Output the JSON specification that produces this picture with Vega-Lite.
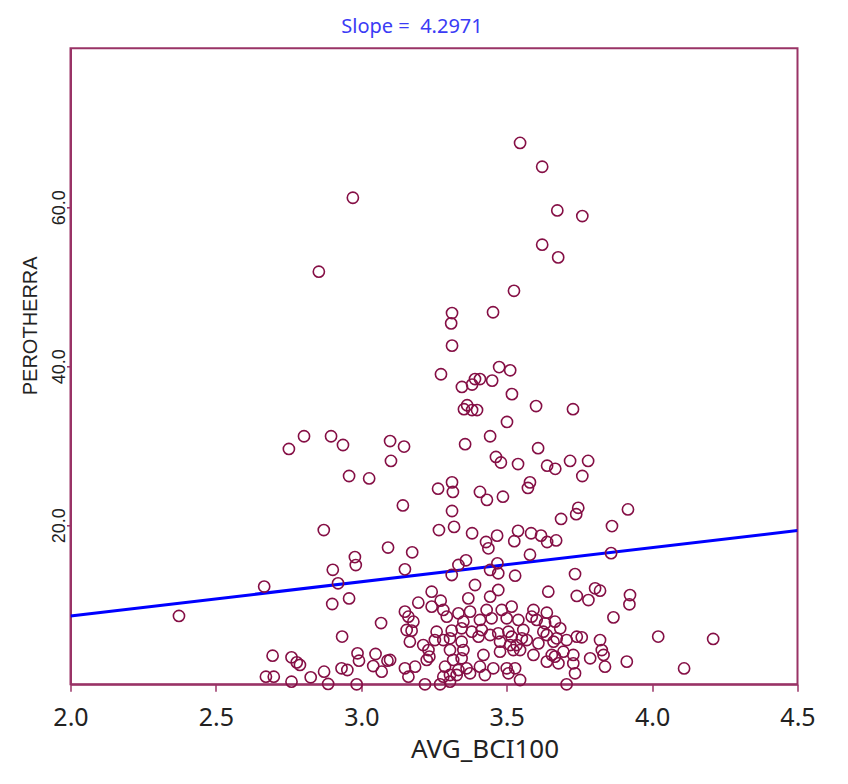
{
"$schema": "https://vega.github.io/schema/vega-lite/v6.json",
"width": 727, "height": 636,
"autosize": {"type": "none"},
"padding": {"left": 70.5, "top": 48.3, "right": 50.5, "bottom": 99.7},
"background": "white",
"title": {"text": "Slope =\u00a0 4.2971", "color": "#3b3bf5", "font": "Noto Sans", "fontSize": 20, "fontWeight": "normal", "anchor": "middle", "dx": -22, "dy": 20, "offset": 11, "baseline": "bottom"},
"datasets": {
"fit": [{"AVG_BCI100": 2.0, "PEROTHERRA": 8.6}, {"AVG_BCI100": 4.5, "PEROTHERRA": 19.34}],
"points": [
{"AVG_BCI100":3.546,"PEROTHERRA":68.1},{"AVG_BCI100":3.622,"PEROTHERRA":65.1},{"AVG_BCI100":2.971,"PEROTHERRA":61.2},{"AVG_BCI100":3.674,"PEROTHERRA":59.6},{"AVG_BCI100":3.760,"PEROTHERRA":58.9},{"AVG_BCI100":3.622,"PEROTHERRA":55.3},{"AVG_BCI100":3.677,"PEROTHERRA":53.7},{"AVG_BCI100":2.854,"PEROTHERRA":51.9},{"AVG_BCI100":3.525,"PEROTHERRA":49.5},{"AVG_BCI100":3.312,"PEROTHERRA":46.7},{"AVG_BCI100":3.453,"PEROTHERRA":46.8},{"AVG_BCI100":3.309,"PEROTHERRA":45.4},{"AVG_BCI100":3.312,"PEROTHERRA":42.6},{"AVG_BCI100":3.274,"PEROTHERRA":39.0},{"AVG_BCI100":3.474,"PEROTHERRA":39.9},{"AVG_BCI100":3.512,"PEROTHERRA":39.5},{"AVG_BCI100":3.391,"PEROTHERRA":38.4},{"AVG_BCI100":3.408,"PEROTHERRA":38.4},{"AVG_BCI100":3.346,"PEROTHERRA":37.4},{"AVG_BCI100":3.381,"PEROTHERRA":37.7},{"AVG_BCI100":3.450,"PEROTHERRA":38.2},{"AVG_BCI100":3.518,"PEROTHERRA":36.5},{"AVG_BCI100":3.364,"PEROTHERRA":35.1},{"AVG_BCI100":3.353,"PEROTHERRA":34.6},{"AVG_BCI100":3.381,"PEROTHERRA":34.5},{"AVG_BCI100":3.398,"PEROTHERRA":34.5},{"AVG_BCI100":3.601,"PEROTHERRA":35.0},{"AVG_BCI100":3.728,"PEROTHERRA":34.6},{"AVG_BCI100":3.501,"PEROTHERRA":33.0},{"AVG_BCI100":3.443,"PEROTHERRA":31.2},{"AVG_BCI100":3.357,"PEROTHERRA":30.2},{"AVG_BCI100":2.803,"PEROTHERRA":31.2},{"AVG_BCI100":2.896,"PEROTHERRA":31.2},{"AVG_BCI100":3.099,"PEROTHERRA":30.6},{"AVG_BCI100":3.147,"PEROTHERRA":29.9},{"AVG_BCI100":2.751,"PEROTHERRA":29.6},{"AVG_BCI100":2.937,"PEROTHERRA":30.1},{"AVG_BCI100":3.608,"PEROTHERRA":29.7},{"AVG_BCI100":3.463,"PEROTHERRA":28.6},{"AVG_BCI100":3.480,"PEROTHERRA":27.9},{"AVG_BCI100":3.102,"PEROTHERRA":28.1},{"AVG_BCI100":3.639,"PEROTHERRA":27.5},{"AVG_BCI100":3.667,"PEROTHERRA":27.1},{"AVG_BCI100":3.718,"PEROTHERRA":28.1},{"AVG_BCI100":3.780,"PEROTHERRA":28.1},{"AVG_BCI100":3.539,"PEROTHERRA":27.7},{"AVG_BCI100":2.958,"PEROTHERRA":26.2},{"AVG_BCI100":3.027,"PEROTHERRA":25.9},{"AVG_BCI100":3.760,"PEROTHERRA":26.2},{"AVG_BCI100":3.312,"PEROTHERRA":25.4},{"AVG_BCI100":3.264,"PEROTHERRA":24.6},{"AVG_BCI100":3.315,"PEROTHERRA":24.2},{"AVG_BCI100":3.408,"PEROTHERRA":24.2},{"AVG_BCI100":3.432,"PEROTHERRA":23.2},{"AVG_BCI100":3.580,"PEROTHERRA":25.4},{"AVG_BCI100":3.573,"PEROTHERRA":24.7},{"AVG_BCI100":3.487,"PEROTHERRA":23.6},{"AVG_BCI100":3.143,"PEROTHERRA":22.5},{"AVG_BCI100":3.746,"PEROTHERRA":22.2},{"AVG_BCI100":3.312,"PEROTHERRA":21.8},{"AVG_BCI100":3.917,"PEROTHERRA":22.0},{"AVG_BCI100":3.739,"PEROTHERRA":21.4},{"AVG_BCI100":3.687,"PEROTHERRA":20.8},{"AVG_BCI100":3.267,"PEROTHERRA":19.4},{"AVG_BCI100":3.319,"PEROTHERRA":19.8},{"AVG_BCI100":3.381,"PEROTHERRA":19.0},{"AVG_BCI100":2.871,"PEROTHERRA":19.4},{"AVG_BCI100":3.467,"PEROTHERRA":18.7},{"AVG_BCI100":3.539,"PEROTHERRA":19.3},{"AVG_BCI100":3.584,"PEROTHERRA":19.0},{"AVG_BCI100":3.618,"PEROTHERRA":18.7},{"AVG_BCI100":3.639,"PEROTHERRA":17.9},{"AVG_BCI100":3.862,"PEROTHERRA":19.9},{"AVG_BCI100":3.429,"PEROTHERRA":17.9},{"AVG_BCI100":3.437,"PEROTHERRA":17.1},{"AVG_BCI100":3.526,"PEROTHERRA":18.0},{"AVG_BCI100":3.670,"PEROTHERRA":18.1},{"AVG_BCI100":3.092,"PEROTHERRA":17.2},{"AVG_BCI100":3.175,"PEROTHERRA":16.6},{"AVG_BCI100":2.978,"PEROTHERRA":16.0},{"AVG_BCI100":3.360,"PEROTHERRA":15.6},{"AVG_BCI100":3.859,"PEROTHERRA":16.5},{"AVG_BCI100":3.580,"PEROTHERRA":16.3},{"AVG_BCI100":2.902,"PEROTHERRA":14.4},{"AVG_BCI100":2.981,"PEROTHERRA":15.0},{"AVG_BCI100":2.920,"PEROTHERRA":12.7},{"AVG_BCI100":2.666,"PEROTHERRA":12.3},{"AVG_BCI100":2.900,"PEROTHERRA":10.1},{"AVG_BCI100":2.958,"PEROTHERRA":10.8},{"AVG_BCI100":2.373,"PEROTHERRA":8.6},{"AVG_BCI100":3.068,"PEROTHERRA":7.7},{"AVG_BCI100":2.934,"PEROTHERRA":6.0},{"AVG_BCI100":4.021,"PEROTHERRA":6.0},{"AVG_BCI100":4.210,"PEROTHERRA":5.7},{"AVG_BCI100":4.110,"PEROTHERRA":2.0},
{"AVG_BCI100":3.150,"PEROTHERRA":14.46},{"AVG_BCI100":3.334,"PEROTHERRA":15.01},{"AVG_BCI100":3.311,"PEROTHERRA":13.75},{"AVG_BCI100":3.443,"PEROTHERRA":14.38},{"AVG_BCI100":3.471,"PEROTHERRA":13.96},{"AVG_BCI100":3.529,"PEROTHERRA":13.66},{"AVG_BCI100":3.735,"PEROTHERRA":13.87},{"AVG_BCI100":3.468,"PEROTHERRA":15.22},{"AVG_BCI100":3.391,"PEROTHERRA":12.49},{"AVG_BCI100":3.242,"PEROTHERRA":11.65},{"AVG_BCI100":3.368,"PEROTHERRA":10.81},{"AVG_BCI100":3.443,"PEROTHERRA":11.02},{"AVG_BCI100":3.471,"PEROTHERRA":11.86},{"AVG_BCI100":3.643,"PEROTHERRA":11.65},{"AVG_BCI100":3.741,"PEROTHERRA":11.11},{"AVG_BCI100":3.781,"PEROTHERRA":10.60},{"AVG_BCI100":3.804,"PEROTHERRA":12.07},{"AVG_BCI100":3.821,"PEROTHERRA":11.78},{"AVG_BCI100":3.924,"PEROTHERRA":11.23},{"AVG_BCI100":3.922,"PEROTHERRA":10.06},{"AVG_BCI100":3.196,"PEROTHERRA":10.27},{"AVG_BCI100":3.273,"PEROTHERRA":10.52},{"AVG_BCI100":3.242,"PEROTHERRA":9.77},{"AVG_BCI100":3.282,"PEROTHERRA":9.35},{"AVG_BCI100":3.150,"PEROTHERRA":9.14},{"AVG_BCI100":3.334,"PEROTHERRA":8.93},{"AVG_BCI100":3.374,"PEROTHERRA":9.14},{"AVG_BCI100":3.431,"PEROTHERRA":9.35},{"AVG_BCI100":3.483,"PEROTHERRA":9.35},{"AVG_BCI100":3.517,"PEROTHERRA":9.77},{"AVG_BCI100":3.592,"PEROTHERRA":9.35},{"AVG_BCI100":3.638,"PEROTHERRA":9.01},{"AVG_BCI100":3.586,"PEROTHERRA":8.51},{"AVG_BCI100":3.162,"PEROTHERRA":8.51},{"AVG_BCI100":3.179,"PEROTHERRA":7.88},{"AVG_BCI100":3.294,"PEROTHERRA":8.51},{"AVG_BCI100":3.351,"PEROTHERRA":7.88},{"AVG_BCI100":3.408,"PEROTHERRA":8.09},{"AVG_BCI100":3.448,"PEROTHERRA":8.30},{"AVG_BCI100":3.500,"PEROTHERRA":8.30},{"AVG_BCI100":3.540,"PEROTHERRA":8.09},{"AVG_BCI100":3.603,"PEROTHERRA":8.09},{"AVG_BCI100":3.632,"PEROTHERRA":7.67},{"AVG_BCI100":3.666,"PEROTHERRA":7.88},{"AVG_BCI100":3.684,"PEROTHERRA":7.04},{"AVG_BCI100":3.867,"PEROTHERRA":8.42},{"AVG_BCI100":3.156,"PEROTHERRA":6.83},{"AVG_BCI100":3.173,"PEROTHERRA":6.75},{"AVG_BCI100":3.259,"PEROTHERRA":6.62},{"AVG_BCI100":3.311,"PEROTHERRA":6.75},{"AVG_BCI100":3.345,"PEROTHERRA":7.04},{"AVG_BCI100":3.380,"PEROTHERRA":6.62},{"AVG_BCI100":3.414,"PEROTHERRA":6.83},{"AVG_BCI100":3.443,"PEROTHERRA":6.20},{"AVG_BCI100":3.471,"PEROTHERRA":6.41},{"AVG_BCI100":3.506,"PEROTHERRA":6.62},{"AVG_BCI100":3.517,"PEROTHERRA":5.99},{"AVG_BCI100":3.557,"PEROTHERRA":6.83},{"AVG_BCI100":3.552,"PEROTHERRA":5.78},{"AVG_BCI100":3.626,"PEROTHERRA":6.62},{"AVG_BCI100":3.638,"PEROTHERRA":6.20},{"AVG_BCI100":3.672,"PEROTHERRA":5.78},{"AVG_BCI100":3.706,"PEROTHERRA":5.57},{"AVG_BCI100":3.741,"PEROTHERRA":5.99},{"AVG_BCI100":3.758,"PEROTHERRA":5.91},{"AVG_BCI100":3.821,"PEROTHERRA":5.57},{"AVG_BCI100":3.167,"PEROTHERRA":5.36},{"AVG_BCI100":3.213,"PEROTHERRA":4.94},{"AVG_BCI100":3.231,"PEROTHERRA":4.31},{"AVG_BCI100":3.253,"PEROTHERRA":5.57},{"AVG_BCI100":3.282,"PEROTHERRA":5.57},{"AVG_BCI100":3.305,"PEROTHERRA":5.78},{"AVG_BCI100":3.345,"PEROTHERRA":5.36},{"AVG_BCI100":3.403,"PEROTHERRA":5.99},{"AVG_BCI100":3.477,"PEROTHERRA":5.36},{"AVG_BCI100":3.512,"PEROTHERRA":4.94},{"AVG_BCI100":3.534,"PEROTHERRA":4.94},{"AVG_BCI100":3.569,"PEROTHERRA":5.57},{"AVG_BCI100":3.609,"PEROTHERRA":5.15},{"AVG_BCI100":3.661,"PEROTHERRA":5.36},{"AVG_BCI100":3.234,"PEROTHERRA":3.48},{"AVG_BCI100":3.305,"PEROTHERRA":4.31},{"AVG_BCI100":3.351,"PEROTHERRA":4.31},{"AVG_BCI100":3.420,"PEROTHERRA":3.69},{"AVG_BCI100":3.477,"PEROTHERRA":4.10},{"AVG_BCI100":3.523,"PEROTHERRA":4.31},{"AVG_BCI100":3.546,"PEROTHERRA":4.31},{"AVG_BCI100":3.592,"PEROTHERRA":3.69},{"AVG_BCI100":3.655,"PEROTHERRA":3.69},{"AVG_BCI100":3.666,"PEROTHERRA":3.48},{"AVG_BCI100":3.695,"PEROTHERRA":4.10},{"AVG_BCI100":3.729,"PEROTHERRA":3.69},{"AVG_BCI100":3.787,"PEROTHERRA":3.27},{"AVG_BCI100":3.827,"PEROTHERRA":4.31},{"AVG_BCI100":3.833,"PEROTHERRA":3.69},{"AVG_BCI100":3.099,"PEROTHERRA":3.06},{"AVG_BCI100":3.150,"PEROTHERRA":2.01},{"AVG_BCI100":3.185,"PEROTHERRA":2.22},{"AVG_BCI100":3.225,"PEROTHERRA":3.06},{"AVG_BCI100":3.288,"PEROTHERRA":2.22},{"AVG_BCI100":3.316,"PEROTHERRA":3.06},{"AVG_BCI100":3.345,"PEROTHERRA":3.27},{"AVG_BCI100":3.362,"PEROTHERRA":2.01},{"AVG_BCI100":3.408,"PEROTHERRA":2.22},{"AVG_BCI100":3.454,"PEROTHERRA":2.01},{"AVG_BCI100":3.500,"PEROTHERRA":2.01},{"AVG_BCI100":3.529,"PEROTHERRA":2.01},{"AVG_BCI100":3.638,"PEROTHERRA":2.85},{"AVG_BCI100":3.678,"PEROTHERRA":2.64},{"AVG_BCI100":3.729,"PEROTHERRA":2.64},{"AVG_BCI100":3.838,"PEROTHERRA":2.22},{"AVG_BCI100":3.913,"PEROTHERRA":2.85},{"AVG_BCI100":3.162,"PEROTHERRA":0.96},{"AVG_BCI100":3.219,"PEROTHERRA":0},{"AVG_BCI100":3.282,"PEROTHERRA":0.96},{"AVG_BCI100":3.305,"PEROTHERRA":1.17},{"AVG_BCI100":3.328,"PEROTHERRA":1.17},{"AVG_BCI100":3.334,"PEROTHERRA":1.80},{"AVG_BCI100":3.374,"PEROTHERRA":1.38},{"AVG_BCI100":3.425,"PEROTHERRA":1.17},{"AVG_BCI100":3.506,"PEROTHERRA":1.38},{"AVG_BCI100":3.546,"PEROTHERRA":0.54},{"AVG_BCI100":3.706,"PEROTHERRA":0},{"AVG_BCI100":3.735,"PEROTHERRA":1.38},{"AVG_BCI100":3.271,"PEROTHERRA":0},{"AVG_BCI100":3.305,"PEROTHERRA":0.33},
{"AVG_BCI100":2.695,"PEROTHERRA":3.60},{"AVG_BCI100":2.760,"PEROTHERRA":3.39},{"AVG_BCI100":2.778,"PEROTHERRA":2.76},{"AVG_BCI100":2.789,"PEROTHERRA":2.43},{"AVG_BCI100":2.672,"PEROTHERRA":0.96},{"AVG_BCI100":2.699,"PEROTHERRA":0.96},{"AVG_BCI100":2.760,"PEROTHERRA":0.33},{"AVG_BCI100":2.826,"PEROTHERRA":0.88},{"AVG_BCI100":2.872,"PEROTHERRA":1.59},{"AVG_BCI100":2.886,"PEROTHERRA":0.04},{"AVG_BCI100":2.932,"PEROTHERRA":2.01},{"AVG_BCI100":2.952,"PEROTHERRA":1.80},{"AVG_BCI100":2.987,"PEROTHERRA":3.90},{"AVG_BCI100":2.992,"PEROTHERRA":2.97},{"AVG_BCI100":3.049,"PEROTHERRA":3.81},{"AVG_BCI100":3.041,"PEROTHERRA":2.30},{"AVG_BCI100":3.090,"PEROTHERRA":2.97},{"AVG_BCI100":3.070,"PEROTHERRA":1.59},{"AVG_BCI100":2.984,"PEROTHERRA":0}
]},
"layer": [
{"data": {"name": "fit"}, "mark": {"type": "line", "color": "#0000ff", "strokeWidth": 3, "clip": true},
 "encoding": {"x": {"field": "AVG_BCI100", "type": "quantitative"}, "y": {"field": "PEROTHERRA", "type": "quantitative"}}},
{"data": {"name": "points"}, "mark": {"type": "point", "shape": "circle", "filled": false, "stroke": "#850f45", "strokeWidth": 1.6, "size": 125, "opacity": 1},
 "encoding": {
  "x": {"field": "AVG_BCI100", "type": "quantitative", "scale": {"domain": [2, 4.5], "nice": false, "zero": false},
   "axis": {"values": [2, 2.5, 3, 3.5, 4, 4.5], "format": ".1f", "labelFont": "Noto Sans", "labelFontSize": 25, "labelColor": "#222222", "tickSize": 7, "labelPadding": 14, "title": "AVG_BCI100", "titleFont": "Noto Sans", "titleFontSize": 26, "titleFontWeight": "normal", "titleColor": "#222222", "titleX": 414, "titleY": 73, "titleAlign": "center", "titleBaseline": "alphabetic", "labelFlush": false}},
  "y": {"field": "PEROTHERRA", "type": "quantitative", "scale": {"domain": [0, 80], "nice": false, "zero": false},
   "axis": {"values": [20, 40, 60], "format": ".1f", "labelAngle": -90, "labelAlign": "center", "labelBaseline": "alphabetic", "labelFont": "Liberation Sans", "labelFontSize": 18, "labelColor": "#222222", "tickSize": 4, "labelPadding": 2, "title": "PEROTHERRA", "titleFont": "Liberation Sans", "titleFontSize": 20, "titleFontWeight": "normal", "titleColor": "#222222", "titleAngle": -90, "titleX": -34, "titleY": 277, "titleAlign": "center", "titleBaseline": "alphabetic"}}
 }}
],
"config": {
 "view": {"stroke": "#993366", "strokeWidth": 2},
 "axis": {"grid": false, "domainColor": "#993366", "domainWidth": 2, "tickColor": "#993366", "tickWidth": 1.5}
}
}
